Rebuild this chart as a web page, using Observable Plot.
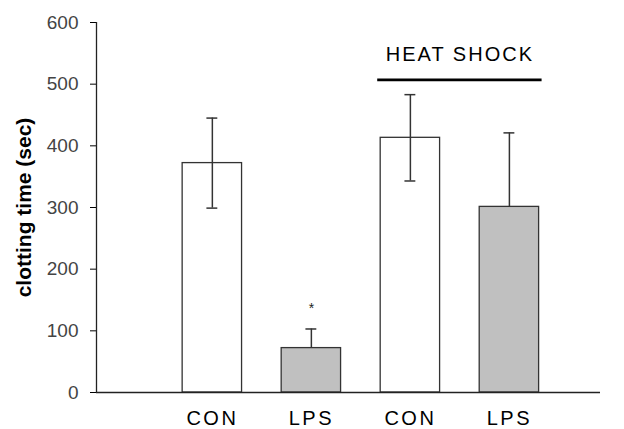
<!DOCTYPE html>
<html>
<head>
<meta charset="utf-8">
<script src="https://cdn.jsdelivr.net/npm/d3@7"></script>
<script src="https://cdn.jsdelivr.net/npm/@observablehq/plot@0.6"></script>
<style>
  html, body { margin: 0; padding: 0; background: #fff; }
  #chart svg { display: block; }
</style>
</head>
<body>
<div id="chart"></div>
<script>
// ---- data ----
const categories = ["CON", "LPS", "CON", "LPS"];
const positions = [1, 2, 3, 4];
const means = [372, 72, 413, 301];
const sem = [73, 31, 70, 120];
const showLower = [true, false, true, false];
const treatment = ["control", "lps", "control", "lps"];
const marks = ["", "*", "", ""];
const yTicks = [0, 100, 200, 300, 400, 500, 600];
const yLabel = "clotting time (sec)";
const groupLabel = "HEAT SHOCK";
const groupMembers = [3, 4];
const groupLineValue = 507;
const groupLabelValue = 548;

const rows = categories.map((c, i) => ({
  pos: positions[i], label: c, mean: means[i], sem: sem[i],
  lower: showLower[i] ? means[i] - sem[i] : means[i],
  upper: means[i] + sem[i], treatment: treatment[i], mark: marks[i]
}));

const xDomain = [-0.17, 4.92];
const halfBar = 0.3, halfCap = 0.055, groupPad = 0.33;
const g0 = Math.min(...groupMembers) - groupPad, g1 = Math.max(...groupMembers) + groupPad;
const font = "'Liberation Sans', Arial, sans-serif";

const chart = Plot.plot({
  width: 624,
  height: 429,
  marginLeft: 96,
  marginRight: 24,
  marginTop: 22,
  marginBottom: 37,
  style: { fontFamily: font, fontSize: "19px", color: "#000", background: "#fff" },
  x: { domain: xDomain },
  y: { domain: [0, 600] },
  color: { domain: ["control", "lps"], range: ["#ffffff", "#c0c0c0"] },
  marks: [
    Plot.rectY(rows, {
      x1: d => d.pos - halfBar, x2: d => d.pos + halfBar, y1: 0, y2: "mean",
      fill: "treatment", stroke: "#333", strokeWidth: 1.3
    }),
    Plot.ruleX(rows, { x: "pos", y1: "lower", y2: "upper", stroke: "#333", strokeWidth: 1.5 }),
    Plot.ruleY(rows, { y: "upper", x1: d => d.pos - halfCap, x2: d => d.pos + halfCap, stroke: "#333", strokeWidth: 1.5 }),
    Plot.ruleY(rows.filter(d => d.lower < d.mean), { y: "lower", x1: d => d.pos - halfCap, x2: d => d.pos + halfCap, stroke: "#333", strokeWidth: 1.5 }),
    Plot.text(rows.filter(d => d.mark), { x: "pos", y: "upper", text: "mark", dy: -20, fontSize: 14, fill: "#222" }),
    Plot.ruleY([groupLineValue], { x1: g0, x2: g1, stroke: "#000", strokeWidth: 2.6 }),
    Plot.text([groupLabel], { x: (groupMembers[0] + groupMembers[1]) / 2, y: groupLabelValue, text: d => d, fontSize: 20, fill: "#000" }),
    Plot.axisY({ ticks: yTicks, tickSize: 6, tickPadding: 12, label: null, fill: "#444", stroke: "#000", strokeOpacity: 1, fontSize: 19 }),
    Plot.axisX({ ticks: positions, tickFormat: (d) => categories[positions.indexOf(d)], tickSize: 0, tickPadding: 18, label: null, fontSize: 20, fill: "#000" }),
    Plot.ruleY([0], { stroke: "#222", strokeWidth: 1.3 }),
    Plot.ruleX([xDomain[0]], { stroke: "#222", strokeWidth: 1.3 }),
    Plot.text([yLabel], { frameAnchor: "left", textAnchor: "middle", rotate: -90, dx: -72, text: d => d, fontSize: 21, fontWeight: "bold", fill: "#000" })
  ]
});
chart.querySelectorAll("text").forEach(t => {
  const s = t.textContent;
  if (s === groupLabel) t.setAttribute("letter-spacing", "2");
  else if (categories.includes(s)) t.setAttribute("letter-spacing", "2.5");
});
document.getElementById("chart").appendChild(chart);
</script>
</body>
</html>
